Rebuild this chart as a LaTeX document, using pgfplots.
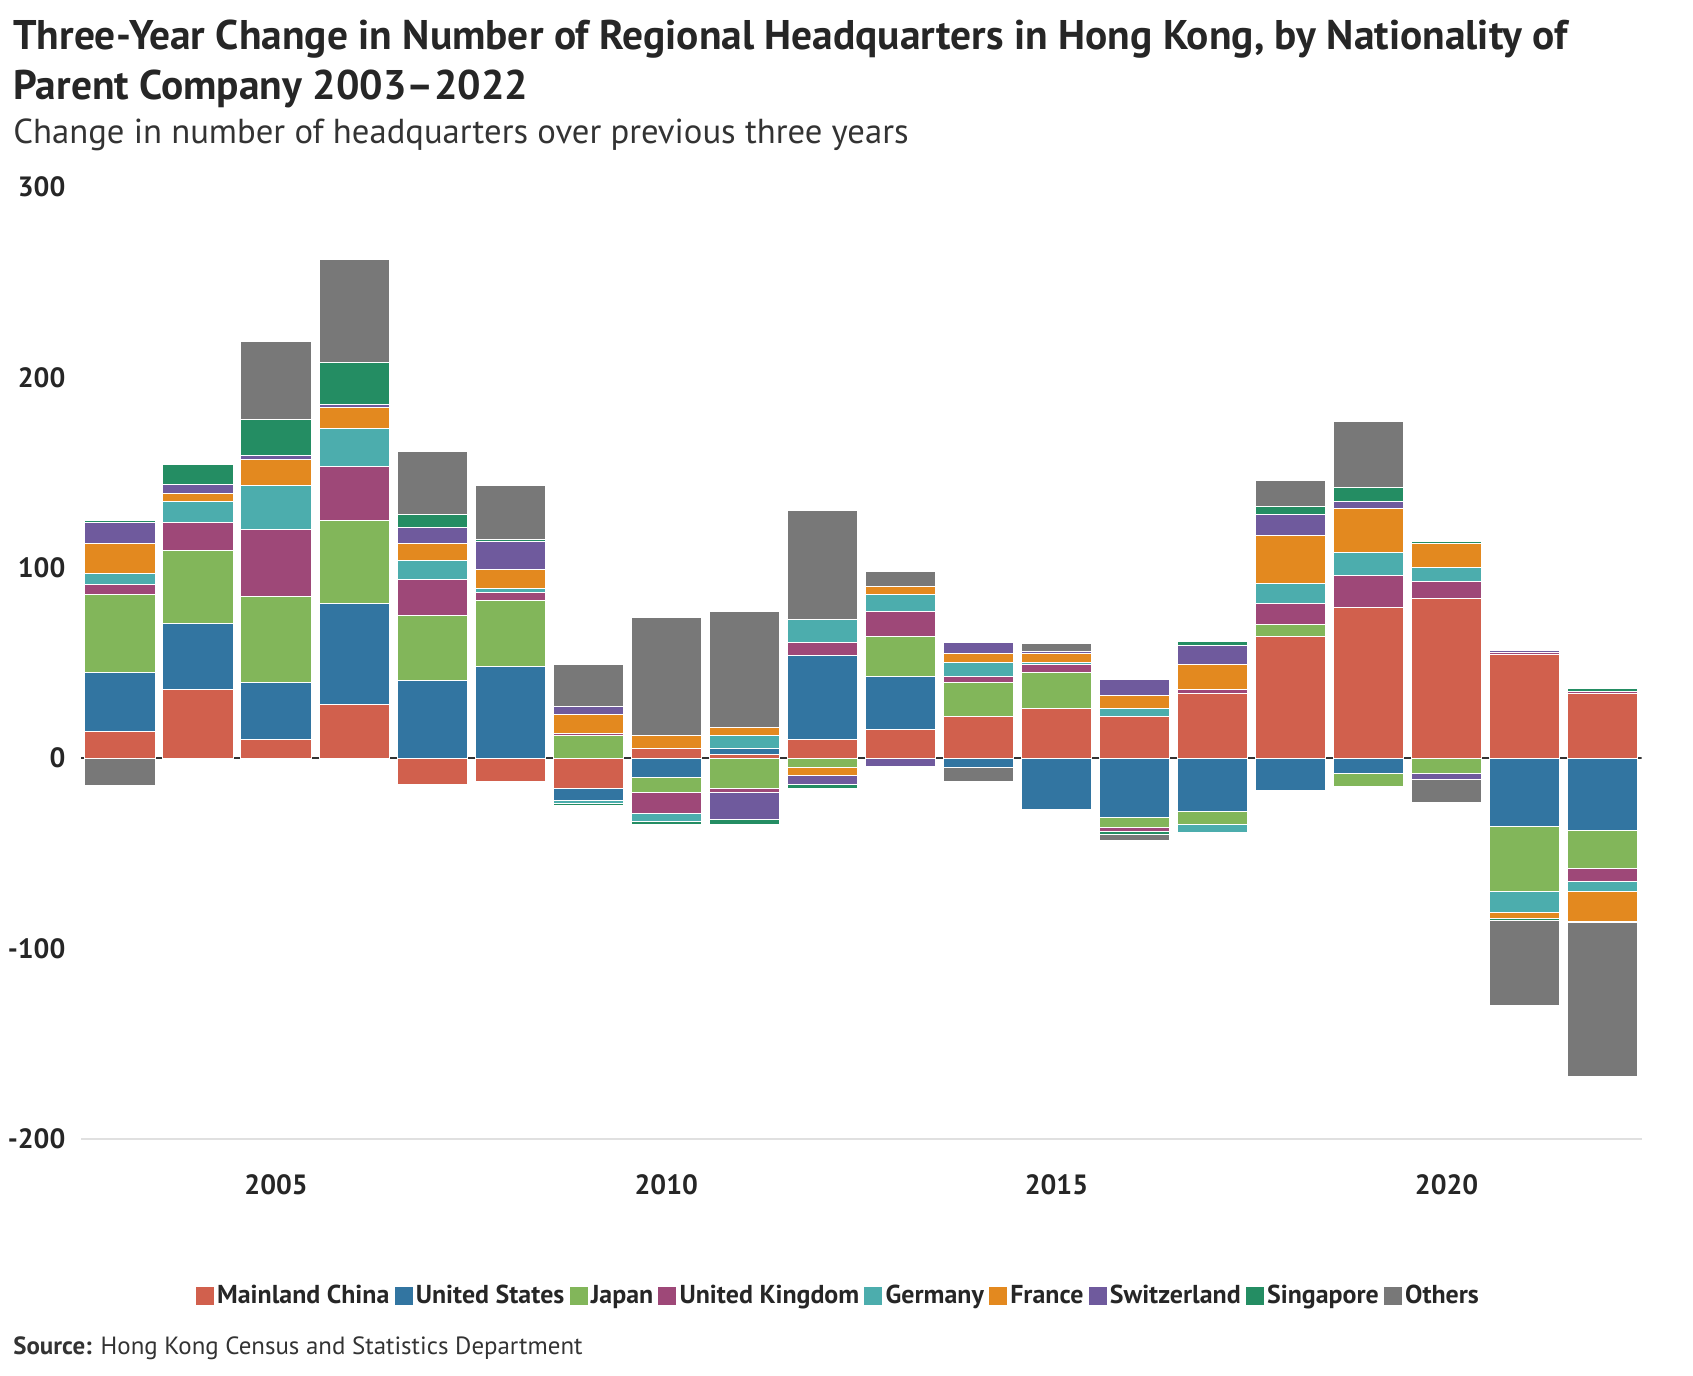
\documentclass[border=0pt]{standalone}
\usepackage{fontspec}
\setmainfont{PT Sans}
\usepackage{pgfplots}
\usepackage{pgfplotstable}
\pgfplotsset{compat=1.18}

\definecolor{cMC}{HTML}{D1604D}
\definecolor{cUS}{HTML}{3275A1}
\definecolor{cJP}{HTML}{82B65A}
\definecolor{cUK}{HTML}{9E4878}
\definecolor{cDE}{HTML}{4CADAD}
\definecolor{cFR}{HTML}{E3891F}
\definecolor{cCH}{HTML}{6F5A9D}
\definecolor{cSG}{HTML}{248D63}
\definecolor{cOT}{HTML}{787878}

% positive parts of the three-year change
\pgfplotstableread{
year mc us jp uk de fr ch sg ot
2003 14 31 41 5 6 16 11 1 0
2004 36 35 38 15 11 4 5 10 0
2005 10 30 45 35 23 14 2 19 41
2006 28 53 44 28 20 11 2 22 54
2007 0 41 34 19 10 9 8 7 33
2008 0 48 35 4 2 10 15 1 28
2009 0 0 12 1 0 10 4 0 22
2010 5 0 0 0 0 7 0 0 62
2011 2 3 0 0 7 4 0 0 61
2012 10 44 0 7 12 0 0 0 57
2013 15 28 21 13 9 4 0 0 8
2014 22 0 18 3 7 5 6 0 0
2015 26 0 19 4 1 5 1 0 4
2016 22 0 0 0 4 7 8.5 0 0
2017 34 0 0 2 0 13 10 2.5 0
2018 64 0 6 11 11 25 11 4 14
2019 79 0 0 17 12 23 4 7 35
2020 84 0 0 9 7 13 0 1 0
2021 54.5 0 0 1 0 0 1 0 0
2022 34 0 0 1 0 0 0 1.5 0
}\pos

% negative parts
\pgfplotstableread{
year mc us jp uk de fr ch sg ot
2003 0 0 0 0 0 0 0 0 -14.5
2004 0 0 0 0 0 0 0 0 0
2005 0 0 0 0 0 0 0 0 0
2006 0 0 0 0 0 0 0 0 0
2007 -14 0 0 0 0 0 0 0 0
2008 -12 0 0 0 0 0 0 0 0
2009 -16 -6 0 0 -2 0 0 -1 0
2010 0 -10 -8 -11 -4 0 0 -2 0
2011 0 0 -16 -2 0 0 -14 -3 0
2012 0 0 -5 0 0 -4 -5 -2 0
2013 0 0 0 0 0 0 -4.5 0 0
2014 0 -5 0 0 0 0 0 0 -7
2015 0 -27 0 0 0 0 0 0 0
2016 0 -31 -5.5 -2 0 0 0 -1.5 -3
2017 0 -28 -7 0 -4 0 0 0 0
2018 0 -17 0 0 0 0 0 0 0
2019 0 -8 -7 0 0 0 0 0 0
2020 0 0 -8 0 0 0 -3 0 -12.5
2021 0 -36 -34 0 -11 -3 0 -1 -45
2022 0 -38 -20 -7 -5 -16 -0.5 0 -80.5
}\neg

\pgfplotsset{
  hkbase/.style={
    scale only axis, width=780.35bp, height=476bp,
    at={(40.5bp,118.5bp)}, anchor=south west,
    xmin=2002.5, xmax=2022.5, ymin=-200, ymax=300,
    ybar stacked, bar width=0.9,
    every axis plot/.append style={draw=white, line width=0.5bp},
  },
}

\begin{document}
\begin{tikzpicture}
\path[use as bounding box] (0,0) rectangle (846.5bp,688bp);

\begin{axis}[hkbase, hide axis]
  \addplot[fill=cMC] table[x=year,y=mc]{\neg};
  \addplot[fill=cUS] table[x=year,y=us]{\neg};
  \addplot[fill=cJP] table[x=year,y=jp]{\neg};
  \addplot[fill=cUK] table[x=year,y=uk]{\neg};
  \addplot[fill=cDE] table[x=year,y=de]{\neg};
  \addplot[fill=cFR] table[x=year,y=fr]{\neg};
  \addplot[fill=cCH] table[x=year,y=ch]{\neg};
  \addplot[fill=cSG] table[x=year,y=sg]{\neg};
  \addplot[fill=cOT] table[x=year,y=ot]{\neg};
\end{axis}

\begin{axis}[hkbase,
    axis x line=bottom, axis y line=left,
    x axis line style={draw=black!12, line width=0.8bp, -},
    y axis line style={draw=none},
    tick style={draw=none},
    xtick={2005,2010,2015,2020},
    xticklabels={2005,2010,2015,2020},
    ytick={-200,-100,0,100,200,300},
    yticklabels={-200,-100,0,100,200,300},
    ticklabel style={font=\bfseries\fontsize{14}{14}\selectfont, text=black!85},
    xticklabel style={anchor=center, inner sep=0pt, yshift=-20.5bp},
    yticklabel style={anchor=east, inner sep=0pt, xshift=-5.5bp},
    legend image code/.code={\path[#1,draw=none] (0bp,-4.5bp) rectangle (9bp,4.5bp);},
    legend style={at={(0.4857,-0.165)}, anchor=center, draw=none, fill=none,
      legend columns=-1, font=\bfseries\fontsize{13}{14}\selectfont,
      text=black!85, nodes={inner xsep=1.6bp},
      /tikz/every even column/.append style={column sep=1bp}},
  ]
  \addplot[fill=cMC] table[x=year,y=mc]{\pos};
  \addplot[fill=cUS] table[x=year,y=us]{\pos};
  \addplot[fill=cJP] table[x=year,y=jp]{\pos};
  \addplot[fill=cUK] table[x=year,y=uk]{\pos};
  \addplot[fill=cDE] table[x=year,y=de]{\pos};
  \addplot[fill=cFR] table[x=year,y=fr]{\pos};
  \addplot[fill=cCH] table[x=year,y=ch]{\pos};
  \addplot[fill=cSG] table[x=year,y=sg]{\pos};
  \addplot[fill=cOT] table[x=year,y=ot]{\pos};
  \legend{Mainland China,United States,Japan,United Kingdom,Germany,France,Switzerland,Singapore,Others}
  \draw[black!80, line width=1bp] (axis cs:2002.5,0) -- (axis cs:2022.5,0);
\end{axis}

\node[anchor=base west, inner sep=0, font=\bfseries\fontsize{20.8}{24}\selectfont, text=black!85]
  at (6.5bp,663bp) {Three-Year Change in Number of Regional Headquarters in Hong Kong, by Nationality of};
\node[anchor=base west, inner sep=0, font=\bfseries\fontsize{20.8}{24}\selectfont, text=black!85]
  at (6.5bp,638bp) {Parent Company 2003–2022};
\node[anchor=base west, inner sep=0, font=\fontsize{17.4}{20}\selectfont, text=black!80]
  at (6.5bp,616bp) {Change in number of headquarters over previous three years};
\node[anchor=base west, inner sep=0, font=\fontsize{12.5}{14}\selectfont, text=black!80]
  at (6.5bp,11bp) {\textbf{Source:} Hong Kong Census and Statistics Department};
\end{tikzpicture}
\end{document}
